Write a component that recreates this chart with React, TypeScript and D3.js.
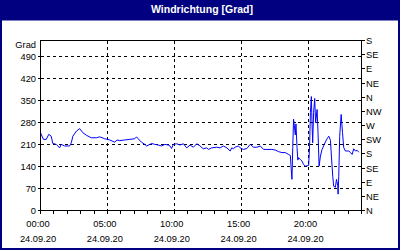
import React from "react";
import * as d3 from "d3";

const timeHours = [
  0.0, 0.22, 0.43, 0.62, 0.8, 0.92, 1.18, 1.43, 1.55, 1.8, 2.18, 2.3, 2.42, 2.68, 2.93, 3.17, 3.43, 3.8, 4.18, 4.43, 4.8, 5.18, 5.55, 5.72, 5.93,
  6.3, 6.68, 7.05, 7.18, 7.3, 7.55, 7.8, 7.93, 8.18, 8.3, 8.55, 8.8, 9.05, 9.3, 9.55, 9.68, 9.8, 9.93, 10.18, 10.43, 10.68, 10.93, 11.18, 11.43, 11.68, 11.93,
  12.17, 12.43, 12.55, 12.8, 13.18, 13.43, 13.67, 13.93, 14.18, 14.3, 14.42, 14.55, 14.8, 14.93, 15.17, 15.43, 15.68, 15.93, 16.18, 16.43, 16.68, 16.93, 17.3, 17.55, 17.8,
  18.05, 18.3, 18.55, 18.68, 18.73, 18.8, 18.86, 18.92, 18.98, 19.05, 19.1, 19.18, 19.24, 19.3, 19.43, 19.55, 19.67, 19.8, 20.05, 20.12, 20.18, 20.25, 20.3, 20.35,
  20.42, 20.5, 20.57, 20.68, 20.75, 20.83, 20.93, 21.05, 21.17, 21.3, 21.43, 21.55, 21.62, 21.68, 21.75, 21.85, 21.92, 22.05, 22.13, 22.22, 22.25, 22.3, 22.37,
  22.48, 22.58, 22.67, 22.8, 23.05, 23.18, 23.3, 23.42, 23.55, 23.68, 23.8,
];

const windDirection = [
  247, 226, 226, 242, 236, 213, 210, 199, 210, 205, 205, 215, 236, 252, 260, 247, 239, 231, 231, 234, 228, 224, 217, 224, 222,
  224, 226, 228, 234, 228, 217, 210, 205, 210, 213, 210, 208, 205, 210, 208, 205, 197, 210, 212, 208, 212, 199, 208, 201, 212, 205,
  196, 199, 194, 199, 201, 199, 205, 199, 189, 199, 196, 201, 205, 199, 194, 197, 210, 201, 201, 205, 194, 194, 194, 192, 187,
  184, 184, 178, 175, 141, 99, 200, 290, 270, 240, 275, 200, 160, 168, 162, 157, 146, 141, 143, 205, 311, 362, 279, 215,
  311, 356, 279, 321, 247, 141, 173, 194, 205, 218, 228, 236, 230, 222, 173, 109, 77, 74, 99, 80, 52, 109, 236,
  305, 247, 200, 189, 189, 184, 178, 196, 189, 191, 185,
];

const leftTicks = [0, 70, 140, 210, 280, 350, 420, 490];
const rightTickValues = [0, 45, 90, 135, 180, 225, 270, 315, 360, 405, 450, 495, 540];
const rightTickLabels = ["N", "NE", "E", "SE", "S", "SW", "W", "NW", "N", "NE", "E", "SE", "S"];
const xMajorHours = [0, 5, 10, 15, 20];
const xTimeLabels = ["00:00", "05:00", "10:00", "15:00", "20:00"];
const xDateLabel = "24.09.20";
const titleText = "Windrichtung [Grad]";
const unitLabel = "Grad";

const NAVY = "#000080";
const FONT = "'Liberation Sans', Arial, sans-serif";

export default function App() {
  const W = 400;
  const H = 250;
  const x = d3.scaleLinear().domain([0, 24]).range([40.5, 361.5]);
  const y = d3.scaleLinear().domain([0, 540]).range([210.5, 40.5]);
  const px = (v: number) => Math.round(v - 0.5) + 0.5;

  const line = d3
    .line<number>()
    .x((_, i) => x(timeHours[i]))
    .y((d) => y(d));

  const minorHours = d3.range(0, 25);

  return (
    <svg
      width={W}
      height={H}
      style={{ position: "absolute", left: 0, top: 0, background: "#fff" }}
      fontFamily={FONT}
    >
      <rect x={0} y={0} width={W} height={H} fill="#fff" />
      {/* frame */}
      <rect x={1} y={1} width={W - 2} height={H - 2} fill="none" stroke={NAVY} strokeWidth={2} />
      <rect x={0} y={0} width={W} height={20.5} fill={NAVY} />
      <text x={202} y={12.5} fill="#fff" fontSize={10.5} fontWeight="bold" textAnchor="middle">
        {titleText}
      </text>

      {/* grid */}
      <g stroke="#000" strokeWidth={1} strokeDasharray="3,3" shapeRendering="crispEdges">
        {leftTicks
          .filter((v) => v > 0)
          .map((v) => (
            <line key={"h" + v} x1={x(0)} x2={x(24)} y1={px(y(v))} y2={px(y(v))} />
          ))}
        {xMajorHours
          .filter((h) => h > 0)
          .map((h) => (
            <line key={"v" + h} x1={px(x(h))} x2={px(x(h))} y1={y(540)} y2={y(0)} />
          ))}
      </g>

      {/* data line */}
      <path d={line(windDirection) || ""} fill="none" stroke="#0000ff" strokeWidth={1} />

      {/* plot frame */}
      <rect
        x={x(0)}
        y={y(540)}
        width={x(24) - x(0)}
        height={y(0) - y(540)}
        fill="none"
        stroke="#000"
        strokeWidth={1}
        shapeRendering="crispEdges"
      />

      {/* left axis */}
      <g fontSize={9.3} fill="#000">
        <text x={36} y={47.5} textAnchor="end">
          {unitLabel}
        </text>
        {leftTicks.map((v) => (
          <g key={"l" + v}>
            <line x1={x(0) - 3} x2={x(0)} y1={px(y(v))} y2={px(y(v))} stroke="#000" shapeRendering="crispEdges" />
            <text x={36} y={px(y(v)) + 3.2} textAnchor="end">
              {v}
            </text>
          </g>
        ))}
      </g>

      {/* right axis */}
      <g fontSize={9.3} fill="#000">
        {rightTickValues.map((v, i) => (
          <g key={"r" + v}>
            <line x1={x(24)} x2={x(24) + 3} y1={px(y(v))} y2={px(y(v))} stroke="#000" shapeRendering="crispEdges" />
            <text x={366} y={px(y(v)) + 3.2} textAnchor="start">
              {rightTickLabels[i]}
            </text>
          </g>
        ))}
      </g>

      {/* bottom axis */}
      <g fontSize={9.3} fill="#000">
        {minorHours.map((h) => (
          <line
            key={"m" + h}
            x1={px(x(h))}
            x2={px(x(h))}
            y1={y(0)}
            y2={y(0) + 3}
            stroke="#000"
            shapeRendering="crispEdges"
          />
        ))}
        {xMajorHours.map((h, i) => (
          <g key={"b" + h}>
            <text x={x(h) - 2.5} y={227} textAnchor="middle">
              {xTimeLabels[i]}
            </text>
            <text x={x(h) - 2.5} y={241.5} textAnchor="middle">
              {xDateLabel}
            </text>
          </g>
        ))}
      </g>
    </svg>
  );
}
